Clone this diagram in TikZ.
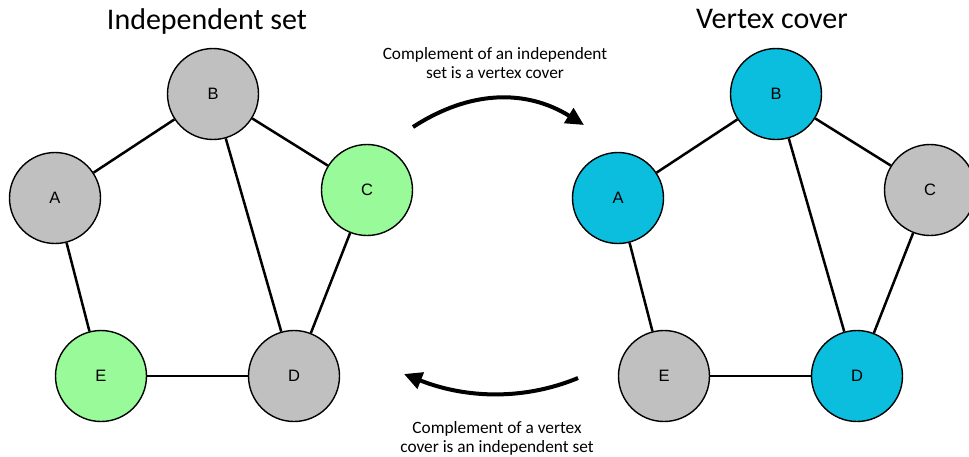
\documentclass[tikz,border=0pt]{standalone}
\usepackage{fontspec}
\setmainfont{Carlito}
\newfontfamily\labelfont{Liberation Sans}
\usetikzlibrary{arrows.meta}

\definecolor{vgray}{RGB}{192,192,192}
\definecolor{vgreen}{RGB}{153,250,153}
\definecolor{vcyan}{RGB}{12,190,221}

\tikzset{
  vert/.style={circle, draw=black, line width=1.4pt, minimum size=91pt, inner sep=0pt,
    font=\labelfont\fontsize{16.5}{18}\selectfont},
  vplain/.style={vert, fill=vgray},
  vindep/.style={vert, fill=vgreen},
  vcov/.style={vert, fill=vcyan},
  link/.style={line width=2.5pt, black},
  heading/.style={anchor=base, font=\fontsize{30}{36}\selectfont},
  captiontext/.style={align=center, font=\fontsize{17.3}{19}\selectfont},
  swaparrow/.style={line width=4pt, -{Triangle[length=18pt, width=17pt]}}
}

\begin{document}
\begin{tikzpicture}[x=1pt, y=-1pt]
  \useasboundingbox[fill=white] (0,0) rectangle (969,456);

  % headings
  \node[heading] (t1) at (207,29) {Independent set};
  \node[heading] (t2) at (772,28) {Vertex cover};

  % left graph: independent set {C, E}
  \node[vplain] (lB) at (213,94) {B};
  \node[vplain] (lA) at (55,198) {A};
  \node[vindep] (lC) at (367,190) {C};
  \node[vindep] (lE) at (101,376) {E};
  \node[vplain] (lD) at (294,376) {D};

  \draw[link] (lA) -- (lB);
  \draw[link] (lB) -- (lC);
  \draw[link] (lB) -- (lD);
  \draw[link] (lC) -- (lD);
  \draw[link] (lA) -- (lE);
  \draw[link] (lE) -- (lD);

  % right graph: vertex cover {A, B, D}
  \node[vcov] (rB) at (776,94) {B};
  \node[vcov] (rA) at (618,198) {A};
  \node[vplain] (rC) at (930,190) {C};
  \node[vplain] (rE) at (664,376) {E};
  \node[vcov] (rD) at (857,376) {D};

  \draw[link] (rA) -- (rB);
  \draw[link] (rB) -- (rC);
  \draw[link] (rB) -- (rD);
  \draw[link] (rC) -- (rD);
  \draw[link] (rA) -- (rE);
  \draw[link] (rE) -- (rD);

  % transformation arrows and their captions (base anchor = last line)
  \coordinate (p1) at (413,127);
  \coordinate (p2) at (584,125);
  \draw[swaparrow] (p1) .. controls (470,90) and (526,89) .. (p2);
  \node[captiontext, anchor=base] (c1) at (495,78)
    {Complement of an independent\\set is a vertex cover};

  \coordinate (q1) at (578,378);
  \coordinate (q2) at (404,374);
  \draw[swaparrow] (q1) .. controls (525,400) and (467,399) .. (q2);
  \node[captiontext, anchor=base] (c2) at (497,452)
    {Complement of a vertex\\cover is an independent set};
\end{tikzpicture}
\end{document}
